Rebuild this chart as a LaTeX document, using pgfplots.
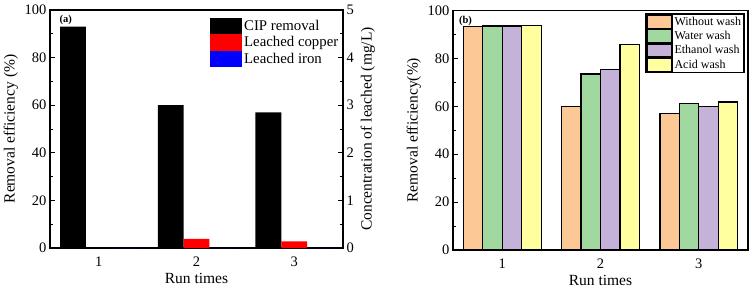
\documentclass[border=0pt]{standalone}
\usepackage{pgfplots}
\pgfplotsset{compat=1.18}
\usepackage{fontspec}
\setmainfont{Liberation Serif}
\definecolor{cOrange}{RGB}{252,200,150}
\definecolor{cGreen}{RGB}{160,216,160}
\definecolor{cPurple}{RGB}{196,178,216}
\definecolor{cYellow}{RGB}{255,255,160}
\pgfplotsset{
  base/.style={
    scale only axis,
    /pgf/number format/assume math mode=true,
    axis line style={line width=1.2pt},
    every tick/.style={line width=1pt, black},
    major tick length=5pt, minor tick length=3pt,
    tick align=inside,
    label style={font=\fontsize{15.5}{17}\selectfont},
    tick label style={font=\fontsize{14.5}{16}\selectfont},
    xticklabel style={yshift=-5pt},
    xmin=0.5, xmax=3.5,
  },
}
\begin{document}
\begin{tikzpicture}
\useasboundingbox (0pt,0pt) rectangle (754pt,290pt);
% ---------- panel (a), left axis ----------
\begin{axis}[base,
  at={(50pt,42pt)}, anchor=south west, width=293pt, height=238pt,
  ymin=0, ymax=100,
  xtick={1,2,3}, xtick pos=bottom, major x tick style={draw=none},
  ytick={0,20,...,100}, minor y tick num=1, ytick pos=left,
  ylabel={Removal efficiency (\%)},
  xlabel={Run times},
  xlabel style={yshift=0pt},
]
\addplot[ybar, bar width=0.264, bar shift=-0.264, fill=black, draw=none]
  coordinates {(1,93) (2,60) (3,57)};
\node[anchor=north west, font=\bfseries\fontsize{10.5}{12}\selectfont, inner sep=0pt]
  at (rel axis cs:0.032,0.978) {(a)};
\end{axis}
% ---------- panel (a), right axis ----------
\begin{axis}[base,
  at={(50pt,42pt)}, anchor=south west, width=293pt, height=238pt,
  ymin=0, ymax=5,
  axis x line=none, axis y line*=right,
  ytick={0,1,...,5}, minor y tick num=1,
  ylabel={Concentration of leached (mg/L)},
  legend style={draw=none, fill=none, at={(0.546,0.968)}, anchor=north west,
    font=\fontsize{14.8}{16.5}\selectfont, row sep=0pt, inner sep=0pt,
    cells={anchor=west}},
  legend image code/.code={\fill[#1] (0pt,-8.25pt) rectangle (32pt,8.25pt);},
]
\addlegendimage{fill=black, draw=none}
\addlegendentry{CIP removal}
\addplot[ybar, bar width=0.264, bar shift=0, fill=red, draw=none]
  coordinates {(2,0.19) (3,0.14)};
\addlegendentry{Leached copper}
\addplot[ybar, bar width=0.264, bar shift=0.264, fill=blue, draw=none]
  coordinates {(1,0) (2,0) (3,0)};
\addlegendentry{Leached iron}
\end{axis}
% ---------- panel (b) ----------
\begin{axis}[base,
  at={(453pt,40pt)}, anchor=south west, width=295pt, height=239.5pt,
  ymin=0, ymax=100,
  xtick={1,2,3}, xtick pos=bottom, major x tick style={draw=none},
  ytick={0,20,...,100}, minor y tick num=1, ytick pos=left,
  ylabel={Removal efficiency(\%)},
  xlabel={Run times},
  xlabel style={yshift=0pt},
  legend style={draw=black, line width=1.2pt, fill=white, at={(0.65,0.988)}, anchor=north west,
    font=\fontsize{12}{13.5}\selectfont, row sep=0pt, inner sep=1pt,
    cells={anchor=west}},
  legend image code/.code={\draw[#1] (0pt,-6.5pt) rectangle (25pt,6.5pt);},
]
\addplot[ybar, bar width=0.198, bar shift=-0.297, fill=cOrange, draw=black, line width=1.2pt]
  coordinates {(1,93.2) (2,60) (3,57)};
\addlegendentry{Without wash}
\addplot[ybar, bar width=0.198, bar shift=-0.099, fill=cGreen, draw=black, line width=1.2pt]
  coordinates {(1,93.5) (2,73.5) (3,61.2)};
\addlegendentry{Water wash}
\addplot[ybar, bar width=0.198, bar shift=0.099, fill=cPurple, draw=black, line width=1.2pt]
  coordinates {(1,93.5) (2,75.3) (3,60)};
\addlegendentry{Ethanol wash}
\addplot[ybar, bar width=0.198, bar shift=0.297, fill=cYellow, draw=black, line width=1.2pt]
  coordinates {(1,93.8) (2,85.8) (3,61.8)};
\addlegendentry{Acid wash}
\node[anchor=north west, font=\bfseries\fontsize{10.5}{12}\selectfont, inner sep=0pt]
  at (rel axis cs:0.02,0.978) {(b)};
\end{axis}
\end{tikzpicture}
\end{document}
